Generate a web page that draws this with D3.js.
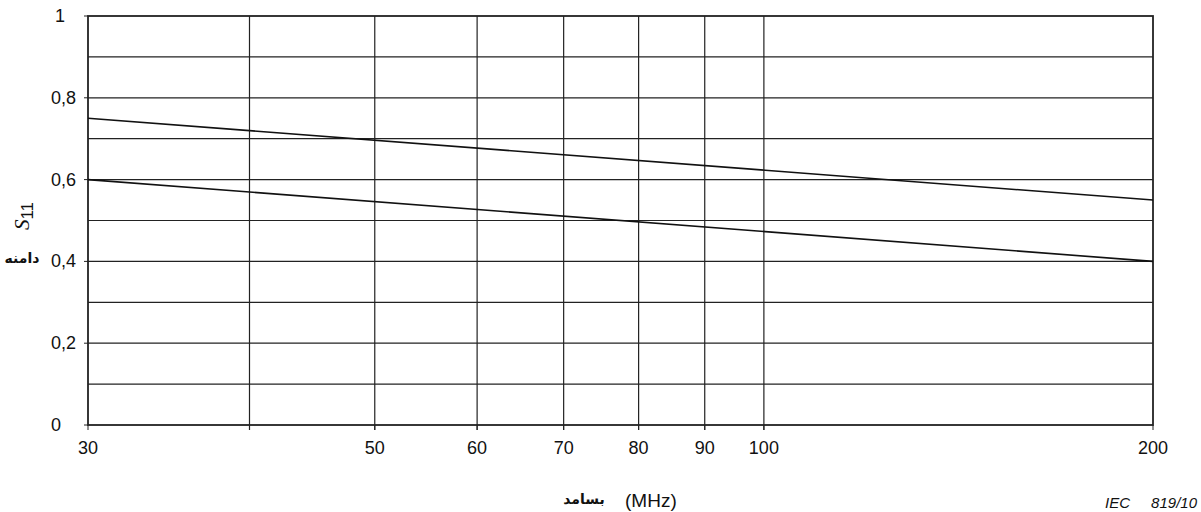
<!DOCTYPE html>
<html>
<head>
<meta charset="utf-8">
<style>
  body { margin: 0; background: #fff; }
  text { font-family: "Liberation Sans", Arial, sans-serif; fill: #111; }
</style>
<script src="https://cdn.jsdelivr.net/npm/d3@7"></script>
</head>
<body>
<svg id="chart" width="1201" height="512"></svg>
<script>
// data
var freqs = [30, 200];
var upper = [0.75, 0.55];
var lower = [0.6, 0.4];
var xGrid = [40, 50, 60, 70, 80, 90, 100];
var xLabels = [30, 50, 60, 70, 80, 90, 100, 200];
var yGrid = [0.1, 0.2, 0.3, 0.4, 0.5, 0.6, 0.7, 0.8, 0.9];
var yLabels = [0, 0.2, 0.4, 0.6, 0.8, 1];

var margin = {top: 16, left: 88, right: 48, bottom: 87};
var width = 1201 - margin.left - margin.right;
var height = 512 - margin.top - margin.bottom;

var svg = d3.select("#chart");
var chart = svg.append("g").attr("transform", "translate(" + margin.left + "," + margin.top + ")");

var x = d3.scaleLog().domain([30, 200]).range([0, width]);
var y = d3.scaleLinear().domain([0, 1]).range([height, 0]);

// grid
chart.selectAll(".hg").data(yGrid).enter().append("line")
  .attr("x1", 0).attr("x2", width)
  .attr("y1", function(d) { return y(d); }).attr("y2", function(d) { return y(d); })
  .attr("stroke", "#222").attr("stroke-width", 1.2);

chart.selectAll(".vg").data(xGrid).enter().append("line")
  .attr("y1", 0).attr("y2", height + 5)
  .attr("x1", function(d) { return x(d); }).attr("x2", function(d) { return x(d); })
  .attr("stroke", "#222").attr("stroke-width", 1.2);

// frame
chart.append("rect").attr("x", 0).attr("y", 0).attr("width", width).attr("height", height)
  .attr("fill", "none").attr("stroke", "#222").attr("stroke-width", 1.8);

// y ticks + labels (left aligned like the original)
chart.selectAll(".yt").data(yLabels).enter().append("line")
  .attr("x1", -4).attr("x2", 0)
  .attr("y1", function(d) { return y(d); }).attr("y2", function(d) { return y(d); })
  .attr("stroke", "#222");
chart.selectAll(".yl").data(yLabels).enter().append("text")
  .attr("x", function(d) { return d === 1 ? 55 - margin.left : 51 - margin.left; })
  .attr("y", function(d) { return y(d) + 6; })
  .style("font-size", "18px")
  .text(function(d) { return String(d).replace(".", ","); });

// x ticks + labels
chart.selectAll(".xt").data(xLabels).enter().append("line")
  .attr("y1", height).attr("y2", height + 5)
  .attr("x1", function(d) { return x(d); }).attr("x2", function(d) { return x(d); })
  .attr("stroke", "#222");
chart.selectAll(".xl").data(xLabels).enter().append("text")
  .attr("x", function(d) { return x(d); }).attr("y", height + 29)
  .attr("text-anchor", "middle").style("font-size", "18px")
  .text(function(d) { return d; });

// lines
var line = d3.line()
  .x(function(d) { return x(d[0]); })
  .y(function(d) { return y(d[1]); });
[upper, lower].forEach(function(s) {
  chart.append("path")
    .datum(d3.zip(freqs, s))
    .attr("d", line)
    .attr("fill", "none").attr("stroke", "#111").attr("stroke-width", 1.6);
});

// axis titles
var yt = svg.append("text")
  .attr("transform", "translate(29,216) rotate(-90)")
  .attr("text-anchor", "middle").style("font-size", "21px");
yt.append("tspan").style("font-style", "italic").style("font-family", "Liberation Serif, serif").text("S");
yt.append("tspan").attr("dy", 4).style("font-size", "17px").text("11");

svg.append("text").attr("x", 22).attr("y", 263).attr("text-anchor", "middle")
  .style("font-size", "14px").style("font-weight", "bold").style("font-family", "DejaVu Sans, sans-serif")
  .text("دامنه");

svg.append("text").attr("x", 584).attr("y", 504).attr("text-anchor", "middle")
  .style("font-size", "14px").style("font-weight", "bold").style("font-family", "DejaVu Sans, sans-serif")
  .text("بسامد");
svg.append("text").attr("x", 625).attr("y", 507)
  .style("font-size", "19px").text("(MHz)");

svg.append("text").attr("x", 1105).attr("y", 508)
  .style("font-size", "15px").style("font-style", "italic").text("IEC");
svg.append("text").attr("x", 1197).attr("y", 508).attr("text-anchor", "end")
  .style("font-size", "15px").style("font-style", "italic").text("819/10");
</script>
</body>
</html>
